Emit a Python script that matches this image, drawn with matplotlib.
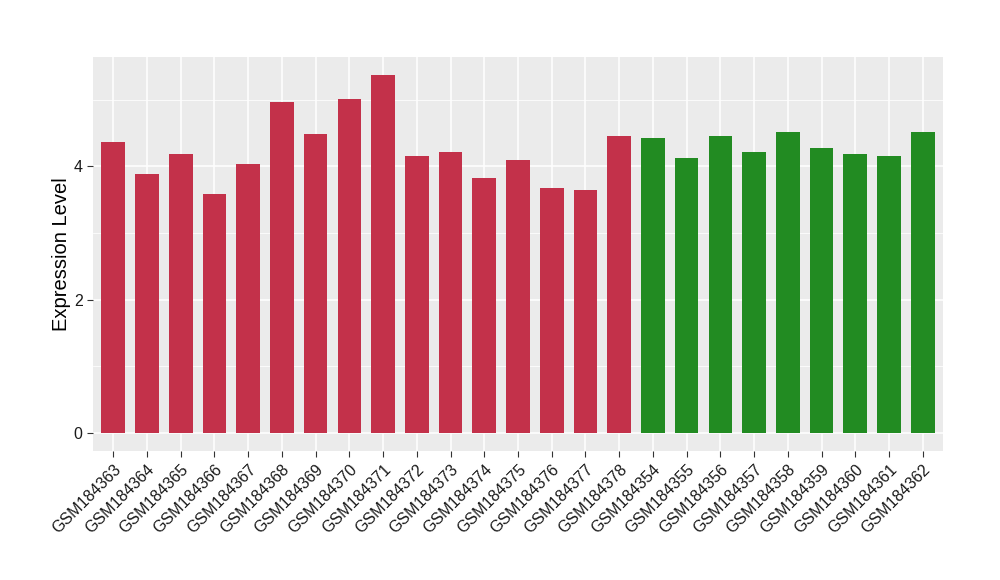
import matplotlib
matplotlib.use("Agg")
import matplotlib.pyplot as plt

plt.rcParams['font.family'] = ['Liberation Sans', 'DejaVu Sans']

samples = ['GSM184363', 'GSM184364', 'GSM184365', 'GSM184366', 'GSM184367',
           'GSM184368', 'GSM184369', 'GSM184370', 'GSM184371', 'GSM184372',
           'GSM184373', 'GSM184374', 'GSM184375', 'GSM184376', 'GSM184377',
           'GSM184378', 'GSM184354', 'GSM184355', 'GSM184356', 'GSM184357',
           'GSM184358', 'GSM184359', 'GSM184360', 'GSM184361', 'GSM184362']
expression = [4.36, 3.88, 4.19, 3.58, 4.04, 4.97, 4.48, 5.01, 5.37, 4.15,
              4.22, 3.83, 4.10, 3.67, 3.64, 4.46, 4.43, 4.13, 4.46, 4.22,
              4.51, 4.28, 4.19, 4.16, 4.51]
groups = ['case'] * 16 + ['control'] * 9
group_colors = {'case': '#C3314A', 'control': '#228B22'}

fig = plt.figure(figsize=(10, 5.8), dpi=100)
ax = fig.add_axes([0.093, 0.2224, 0.85, 0.6793])
ax.set_facecolor('#EBEBEB')

x = list(range(len(samples)))
colors = [group_colors[g] for g in groups]
ax.bar(x, expression, width=0.7, color=colors, zorder=3)

ax.set_xlim(-0.6, len(samples) - 0.4)
ymax = max(expression)
ax.set_ylim(-0.05 * ymax, ymax * 1.05)
ax.set_yticks([0, 2, 4])
ax.set_yticks([1, 3, 5], minor=True)
ax.set_xticks(x)
ax.set_xticklabels(samples, rotation=45, ha='right', rotation_mode='anchor')

ax.grid(which='major', color='white', linewidth=1.1, zorder=0)
ax.grid(which='minor', axis='y', color='white', linewidth=0.55, zorder=0)
ax.set_axisbelow(True)
for s in ax.spines.values():
    s.set_visible(False)

ax.tick_params(axis='both', which='major', length=4, color='#333333',
               labelsize=11.5, labelcolor='#1a1a1a', width=0.8)
ax.tick_params(axis='y', which='minor', length=0)
ax.set_ylabel('Expression Level', fontsize=14.5, color='black', labelpad=2)

fig.savefig('out.png', dpi=100)
